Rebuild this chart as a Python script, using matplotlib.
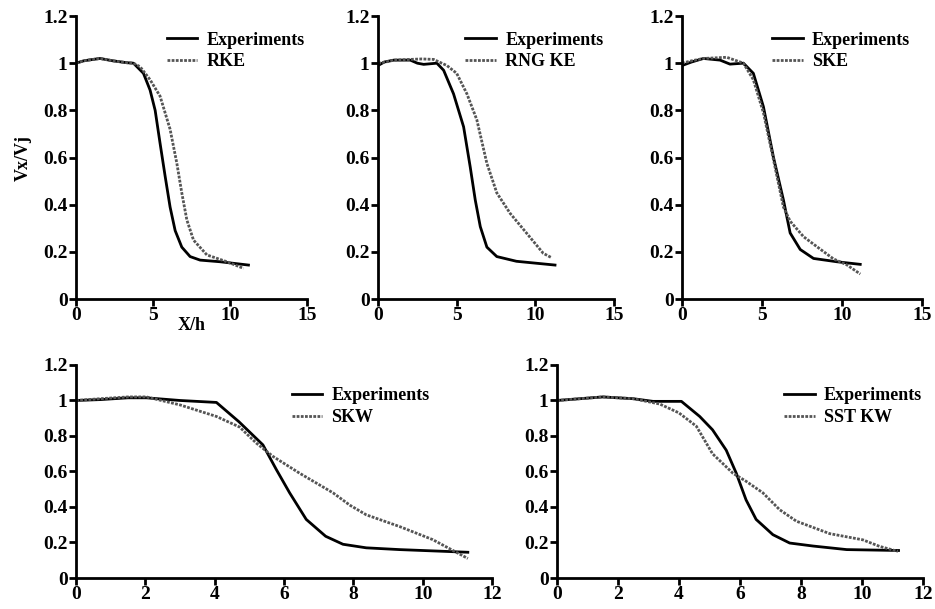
import matplotlib.pyplot as plt

plt.rcParams['font.family'] = 'Liberation Serif'
plt.rcParams['font.weight'] = 'bold'
plt.rcParams['axes.labelweight'] = 'bold'
plt.rcParams['font.size'] = 14

# top-left panel
exp_a_x = [0, 0.5, 1.0, 1.56, 2.4, 3.3, 3.73, 4.38, 4.81, 5.14, 5.46, 5.79, 6.11, 6.44, 6.87, 7.41, 8.06, 9.36, 11.2]
exp_a_y = [1.0, 1.01, 1.015, 1.02, 1.01, 1.002, 1.0, 0.957, 0.886, 0.80, 0.66, 0.52, 0.39, 0.29, 0.22, 0.18, 0.165, 0.158, 0.144]
rke_x = [0, 0.5, 1.0, 1.56, 2.4, 3.3, 3.73, 4.16, 4.81, 5.46, 6.11, 6.55, 6.87, 7.2, 7.63, 8.5, 9.8, 10.88]
rke_y = [1.0, 1.01, 1.015, 1.02, 1.01, 1.002, 1.0, 0.985, 0.93, 0.86, 0.72, 0.575, 0.45, 0.335, 0.25, 0.187, 0.158, 0.13]

# top-middle panel
exp_b_x = [0, 0.4, 1.0, 2.05, 2.5, 2.9, 3.74, 4.17, 4.8, 5.44, 5.86, 6.18, 6.5, 6.92, 7.55, 8.8, 11.25]
exp_b_y = [0.99, 1.005, 1.013, 1.013, 1.0, 0.995, 1.0, 0.97, 0.87, 0.73, 0.56, 0.42, 0.307, 0.22, 0.18, 0.16, 0.144]
rng_x = [0, 0.5, 1.0, 2.05, 2.8, 3.53, 4.38, 5.0, 5.65, 6.28, 6.92, 7.55, 8.4, 9.46, 10.5, 10.98]
rng_y = [1.0, 1.005, 1.013, 1.016, 1.018, 1.016, 0.99, 0.957, 0.87, 0.76, 0.575, 0.45, 0.363, 0.278, 0.194, 0.177]

# top-right panel
exp_c_x = [0, 0.6, 1.34, 2.38, 3.0, 3.84, 4.46, 5.09, 5.72, 6.34, 6.76, 7.39, 8.22, 9.68, 11.14]
exp_c_y = [0.99, 1.005, 1.02, 1.013, 0.996, 1.0, 0.957, 0.815, 0.60, 0.42, 0.28, 0.21, 0.172, 0.158, 0.147]
ske_x = [0, 0.6, 1.34, 2.8, 3.84, 4.46, 5.09, 5.72, 6.34, 6.76, 7.6, 8.43, 9.47, 10.3, 11.14]
ske_y = [1.0, 1.01, 1.02, 1.025, 1.0, 0.93, 0.79, 0.59, 0.39, 0.33, 0.264, 0.222, 0.17, 0.145, 0.106]

# bottom-left panel
exp_d_x = [0, 0.7, 1.5, 2.03, 3.0, 4.05, 4.7, 5.39, 5.78, 6.16, 6.64, 7.2, 7.7, 8.37, 9.33, 11.3]
exp_d_y = [1.0, 1.005, 1.015, 1.015, 1.0, 0.989, 0.88, 0.75, 0.61, 0.48, 0.33, 0.235, 0.19, 0.17, 0.16, 0.145]
skw_x = [0, 0.7, 1.5, 2.03, 3.0, 4.05, 4.72, 5.2, 5.68, 6.45, 7.41, 7.9, 8.37, 9.33, 10.29, 11.3]
skw_y = [1.0, 1.01, 1.02, 1.02, 0.975, 0.91, 0.85, 0.76, 0.685, 0.59, 0.48, 0.41, 0.356, 0.29, 0.216, 0.11]

# bottom-right panel
exp_e_x = [0, 1.5, 2.5, 3.15, 4.08, 4.68, 5.1, 5.55, 5.88, 6.2, 6.53, 7.08, 7.63, 8.4, 9.5, 11.2]
exp_e_y = [1.0, 1.02, 1.01, 0.995, 0.995, 0.91, 0.835, 0.72, 0.59, 0.44, 0.33, 0.244, 0.197, 0.18, 0.16, 0.155]
sst_x = [0, 1.5, 2.5, 3.37, 4.0, 4.57, 5.1, 5.77, 6.2, 6.75, 7.3, 7.85, 8.94, 10.03, 10.58, 11.18]
sst_y = [1.0, 1.02, 1.01, 0.98, 0.93, 0.855, 0.70, 0.59, 0.545, 0.48, 0.385, 0.32, 0.25, 0.215, 0.178, 0.15]

panels = [
    ([0.0813, 0.509, 0.247, 0.4647], exp_a_x, exp_a_y, rke_x, rke_y, 'RKE', 15, [0, 5, 10, 15], (0.99, 0.945)),
    ([0.4043, 0.509, 0.2524, 0.4647], exp_b_x, exp_b_y, rng_x, rng_y, 'RNG KE', 15, [0, 5, 10, 15], (0.955, 0.945)),
    ([0.7294, 0.509, 0.2567, 0.4647], exp_c_x, exp_c_y, ske_x, ske_y, 'SKE', 15, [0, 5, 10, 15], (0.95, 0.945)),
    ([0.0813, 0.0509, 0.445, 0.3498], exp_d_x, exp_d_y, skw_x, skw_y, 'SKW', 12, [0, 2, 4, 6, 8, 10, 12], (0.85, 0.895)),
    ([0.5957, 0.0509, 0.3914, 0.3498], exp_e_x, exp_e_y, sst_x, sst_y, 'SST KW', 12, [0, 2, 4, 6, 8, 10, 12], (0.997, 0.895)),
]

fig = plt.figure(figsize=(9.35, 6.09), dpi=100)
axes = []
for rect, ex, ey, mx, my, name, xmax, xt, anchor in panels:
    ax = fig.add_axes(rect)
    ax.plot(ex, ey, color='black', lw=2, label='Experiments')
    ax.plot(mx, my, color='#555555', lw=2, linestyle=(0, (1.0, 0.5)), label=name)
    ax.set_xlim(0, xmax)
    ax.set_ylim(0, 1.2)
    ax.set_xticks(xt)
    ax.set_yticks([0, 0.2, 0.4, 0.6, 0.8, 1.0, 1.2])
    ax.set_yticklabels(['0', '0.2', '0.4', '0.6', '0.8', '1', '1.2'])
    for s in ['top', 'right']:
        ax.spines[s].set_visible(False)
    for s in ['left', 'bottom']:
        ax.spines[s].set_linewidth(2)
    ax.tick_params(direction='out', length=5, width=2, pad=1, labelsize=14)
    ax.legend(loc='upper right', frameon=False, fontsize=13, handlelength=1.7,
              handletextpad=0.5, labelspacing=0.25, borderpad=0, borderaxespad=0,
              bbox_to_anchor=anchor)
    axes.append(ax)

axes[0].set_ylabel('Vx/Vj', fontsize=13, labelpad=8)
axes[0].set_xlabel('X/h', fontsize=13, labelpad=-5)

fig.savefig('out.png', dpi=100)
